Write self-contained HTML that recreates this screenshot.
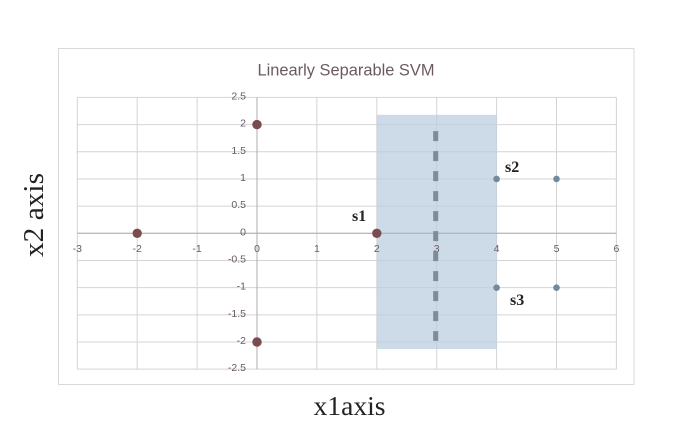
<!DOCTYPE html>
<html>
<head>
<meta charset="utf-8">
<title>Linearly Separable SVM</title>
<style>
html,body{margin:0;padding:0;background:#fff;}
svg{display:block;}
.tick{font-family:"Liberation Sans",sans-serif;font-size:10.5px;fill:#6a5a62;}
</style>
</head>
<body>
<svg id="chart" width="697" height="430" viewBox="0 0 697 430" xmlns="http://www.w3.org/2000/svg">
  <rect x="58.5" y="48.5" width="575.5" height="336" fill="#fff" stroke="#d9d9d9" stroke-width="1"/>
  <text x="346" y="75.5" text-anchor="middle" font-family="'Liberation Sans',sans-serif" font-size="16.5" fill="#6b5a62" textLength="177" lengthAdjust="spacingAndGlyphs">Linearly Separable SVM</text>
  <g id="grid"></g>
  <g id="band"></g>
  <g id="axes"></g>
  <g id="ticks"></g>
  <g id="boundary"></g>
  <g id="points"></g>
  <text x="352" y="221" font-family="'Liberation Serif',serif" font-weight="bold" font-size="16" fill="#222">s1</text>
  <text x="505" y="172" font-family="'Liberation Serif',serif" font-weight="bold" font-size="16" fill="#222">s2</text>
  <text x="510" y="305" font-family="'Liberation Serif',serif" font-weight="bold" font-size="16" fill="#222">s3</text>
  <text x="349.5" y="415" text-anchor="middle" font-family="'Liberation Serif',serif" font-size="27" fill="#222" textLength="72" lengthAdjust="spacingAndGlyphs">x1axis</text>
  <text transform="translate(43,215) rotate(-90)" text-anchor="middle" font-family="'Liberation Serif',serif" font-size="29" fill="#222" textLength="84" lengthAdjust="spacingAndGlyphs">x2 axis</text>
</svg>
<script>
var xTickValues = [-3, -2, -1, 0, 1, 2, 3, 4, 5, 6];
var yTickValues = [2.5, 2, 1.5, 1, 0.5, 0, -0.5, -1, -1.5, -2, -2.5];
var negativeX = [-2, 0, 0, 2];
var negativeY = [0, 2, -2, 0];
var positiveX = [4, 4, 5, 5];
var positiveY = [1, -1, 1, -1];
var bandX = [2, 4];
var bandY = [2.18, -2.13];
var boundaryX = [3, 3];
var boundaryY = [1.88, -1.98];

var NS = 'http://www.w3.org/2000/svg';
function sx(v) { return 257 + v * 59.9; }
function sy(v) { return 233.3 - v * 54.35; }
function add(parent, tag, attrs) {
  var el = document.createElementNS(NS, tag);
  for (var k in attrs) { el.setAttribute(k, attrs[k]); }
  document.getElementById(parent).appendChild(el);
  return el;
}
var xMin = sx(-3), xMax = sx(6), yTop = sy(2.5), yBot = sy(-2.5);

xTickValues.forEach(function (v) {
  var line = add('grid', 'line', {x1: sx(v), x2: sx(v), y1: yTop, y2: yBot, stroke: '#d4d4d4', 'stroke-width': 1});
  
  
  var t = add('ticks', 'text', {x: sx(v), y: 252, 'text-anchor': 'middle', 'class': 'tick'});
  t.textContent = v;
  
  
});
yTickValues.forEach(function (v) {
  var line = add('grid', 'line', {x1: xMin, x2: xMax, y1: sy(v), y2: sy(v), stroke: '#d4d4d4', 'stroke-width': 1});
  
  
  var t = add('ticks', 'text', {x: 246, y: sy(v) + 2, 'text-anchor': 'end', 'class': 'tick'});
  t.textContent = v;
  
  
});

var band = add('band', 'rect', {
  x: sx(bandX[0]), y: sy(bandY[0]),
  width: sx(bandX[1]) - sx(bandX[0]), height: sy(bandY[1]) - sy(bandY[0]),
  fill: '#bccfe0', 'fill-opacity': 0.75
});



var xAxis = add('axes', 'line', {x1: xMin, x2: xMax, y1: sy(0), y2: sy(0), stroke: '#adadad', 'stroke-width': 1});


var yAxis = add('axes', 'line', {x1: sx(0), x2: sx(0), y1: yTop, y2: yBot, stroke: '#adadad', 'stroke-width': 1});



var bLine = add('boundary', 'line', {
  x1: sx(boundaryX[0]) - 1, x2: sx(boundaryX[1]) - 1,
  y1: sy(boundaryY[0]), y2: sy(boundaryY[1]),
  stroke: '#7f8b96', 'stroke-width': 5, 'stroke-dasharray': '10 10'
});



negativeX.forEach(function (v, i) {
  var c = add('points', 'circle', {cx: sx(v), cy: sy(negativeY[i]), r: 4.7, fill: '#7a4b4f'});
  
  
});
positiveX.forEach(function (v, i) {
  var c = add('points', 'circle', {cx: sx(v), cy: sy(positiveY[i]), r: 3.3, fill: '#728a9f'});
  
  
});
</script>
</body>
</html>
